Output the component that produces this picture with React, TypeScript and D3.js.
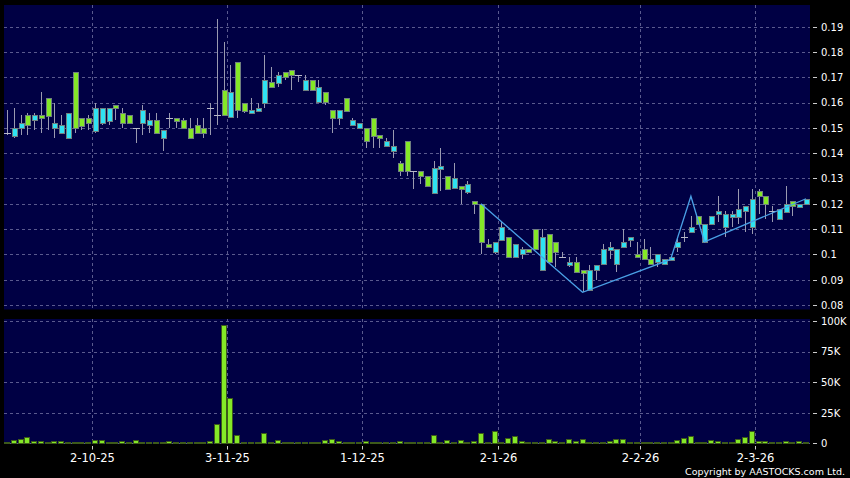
import React from 'react';
import * as d3 from 'd3';

const W = 850;
const H = 478;

// Daily OHLC (oldest first)
const opens = [
  0.148, 0.150, 0.152, 0.151, 0.155, 0.154, 0.155, 0.152, 0.151, 0.156,
  0.150, 0.151, 0.152, 0.158, 0.158, 0.158, 0.158, 0.152, 0.152, 0.150,
  0.157, 0.153, 0.148, 0.149, 0.154, 0.153, 0.150, 0.146, 0.148, 0.148,
  0.158, 0.155, 0.155, 0.164, 0.157, 0.157, 0.157, 0.158, 0.169, 0.166,
  0.171, 0.170, 0.171, 0.171, 0.169, 0.165, 0.166, 0.160, 0.154, 0.157,
  0.157, 0.153, 0.152, 0.145, 0.147, 0.146, 0.145, 0.143, 0.133, 0.133,
  0.133, 0.131, 0.127, 0.134, 0.135, 0.126, 0.130, 0.126, 0.128, 0.120,
  0.105, 0.103, 0.105, 0.111, 0.099, 0.104, 0.102, 0.101, 0.102, 0.107,
  0.097, 0.101, 0.099, 0.097, 0.093, 0.093, 0.094, 0.096, 0.102, 0.103,
  0.102, 0.105, 0.107, 0.099, 0.098, 0.096, 0.100, 0.098, 0.099, 0.105,
  0.107, 0.111, 0.112, 0.112, 0.115, 0.117, 0.116, 0.116, 0.118, 0.119,
  0.122, 0.123, 0.120, 0.117, 0.118, 0.120, 0.119, 0.120, 0.122,
];
const highs = [
  0.157, 0.158, 0.155, 0.156, 0.156, 0.164, 0.162, 0.160, 0.155, 0.156,
  0.172, 0.154, 0.155, 0.160, 0.158, 0.158, 0.159, 0.158, 0.155, 0.150,
  0.159, 0.156, 0.156, 0.149, 0.156, 0.154, 0.154, 0.154, 0.154, 0.154,
  0.160, 0.193, 0.184, 0.175, 0.176, 0.160, 0.162, 0.160, 0.179, 0.174,
  0.172, 0.172, 0.173, 0.171, 0.171, 0.169, 0.169, 0.164, 0.157, 0.157,
  0.162, 0.154, 0.152, 0.150, 0.154, 0.147, 0.146, 0.149, 0.137, 0.145,
  0.133, 0.133, 0.131, 0.137, 0.142, 0.131, 0.136, 0.127, 0.129, 0.121,
  0.120, 0.106, 0.105, 0.113, 0.107, 0.104, 0.103, 0.102, 0.110, 0.110,
  0.108, 0.105, 0.101, 0.099, 0.099, 0.094, 0.096, 0.096, 0.104, 0.105,
  0.102, 0.110, 0.107, 0.105, 0.106, 0.103, 0.100, 0.098, 0.099, 0.106,
  0.109, 0.115, 0.115, 0.112, 0.115, 0.123, 0.117, 0.117, 0.126, 0.119,
  0.126, 0.126, 0.123, 0.119, 0.118, 0.127, 0.121, 0.120, 0.122,
];
const lows = [
  0.147, 0.146, 0.147, 0.147, 0.149, 0.148, 0.149, 0.146, 0.148, 0.146,
  0.148, 0.149, 0.149, 0.148, 0.151, 0.151, 0.153, 0.150, 0.152, 0.144,
  0.147, 0.148, 0.148, 0.141, 0.150, 0.150, 0.150, 0.146, 0.148, 0.146,
  0.147, 0.151, 0.155, 0.154, 0.154, 0.156, 0.156, 0.157, 0.158, 0.166,
  0.166, 0.169, 0.165, 0.168, 0.165, 0.165, 0.160, 0.159, 0.148, 0.151,
  0.157, 0.151, 0.150, 0.142, 0.142, 0.142, 0.143, 0.138, 0.131, 0.131,
  0.126, 0.128, 0.127, 0.124, 0.125, 0.126, 0.126, 0.120, 0.124, 0.116,
  0.100, 0.103, 0.100, 0.106, 0.099, 0.099, 0.098, 0.101, 0.102, 0.094,
  0.097, 0.095, 0.099, 0.095, 0.093, 0.085, 0.086, 0.090, 0.096, 0.098,
  0.093, 0.103, 0.103, 0.099, 0.098, 0.096, 0.095, 0.096, 0.098, 0.101,
  0.105, 0.109, 0.112, 0.105, 0.112, 0.113, 0.107, 0.111, 0.112, 0.109,
  0.108, 0.116, 0.114, 0.113, 0.114, 0.117, 0.115, 0.119, 0.120,
];
const closes = [
  0.148, 0.147, 0.150, 0.155, 0.153, 0.155, 0.162, 0.150, 0.148, 0.146,
  0.172, 0.154, 0.154, 0.149, 0.152, 0.153, 0.159, 0.156, 0.155, 0.150,
  0.152, 0.151, 0.153, 0.146, 0.154, 0.154, 0.153, 0.150, 0.151, 0.150,
  0.158, 0.155, 0.165, 0.154, 0.176, 0.160, 0.156, 0.157, 0.160, 0.168,
  0.168, 0.172, 0.173, 0.171, 0.165, 0.169, 0.160, 0.164, 0.157, 0.154,
  0.162, 0.151, 0.150, 0.150, 0.154, 0.147, 0.143, 0.141, 0.136, 0.145,
  0.133, 0.133, 0.131, 0.124, 0.134, 0.131, 0.126, 0.127, 0.125, 0.121,
  0.120, 0.104, 0.101, 0.106, 0.107, 0.099, 0.100, 0.102, 0.110, 0.094,
  0.108, 0.105, 0.099, 0.096, 0.097, 0.094, 0.086, 0.094, 0.096, 0.102,
  0.096, 0.103, 0.106, 0.100, 0.102, 0.098, 0.097, 0.096, 0.098, 0.103,
  0.107, 0.109, 0.115, 0.105, 0.112, 0.116, 0.111, 0.115, 0.115, 0.117,
  0.111, 0.125, 0.123, 0.117, 0.114, 0.117, 0.121, 0.119, 0.120,
];
// Daily volume, thousands of shares
const volumesK = [
  1.0, 2.7, 3.5, 5.2, 1.6, 1.9, 1.1, 1.9, 1.6, 1.1,
  1.1, 1.1, 0.5, 2.5, 2.5, 0.3, 0.3, 1.6, 0.2, 2.7,
  1.1, 1.1, 1.1, 0.3, 2.2, 0.2, 0.8, 0.3, 0.2, 0.5,
  1.9, 15.8, 96.7, 36.8, 6.8, 1.1, 1.1, 1.1, 8.7, 0.5,
  2.5, 1.1, 0.2, 0.2, 1.1, 1.1, 0.2, 2.5, 3.3, 1.6,
  0.2, 0.2, 0.2, 1.9, 0.8, 0.8, 0.8, 0.8, 1.9, 0.2,
  0.2, 0.2, 0.5, 6.8, 0.8, 2.5, 0.8, 2.5, 0.2, 1.6,
  8.2, 0.8, 10.4, 0.3, 4.6, 6.0, 1.6, 0.2, 0.5, 0.5,
  3.3, 1.6, 0.2, 3.3, 1.9, 3.8, 0.8, 0.5, 1.4, 1.6,
  3.3, 3.3, 0.2, 0.8, 0.8, 0.8, 0.2, 0.5, 0.5, 2.5,
  4.6, 5.7, 0.2, 0.2, 2.7, 1.9, 0.5, 0.2, 3.8, 5.5,
  10.0, 1.6, 1.6, 0.8, 0.2, 1.9, 0.2, 2.2, 0.2,
];

const dateTickIndex = [13, 33, 53, 73, 94, 111];
const dateTickLabels = ['2-10-25', '3-11-25', '1-12-25', '2-1-26', '2-2-26', '2-3-26'];
const priceTicks = [0.08, 0.09, 0.1, 0.11, 0.12, 0.13, 0.14, 0.15, 0.16, 0.17, 0.18, 0.19];
const volumeTicks = [0, 25, 50, 75, 100];

// Zig-zag overlay pivots
const zigIndex = [70, 85, 98, 101, 103, 118];
const zigValue = [0.12, 0.085, 0.098, 0.123, 0.105, 0.122];

const BG = '#000000';
const PANEL = '#000044';
const GRID = '#5a5a8e';
const UP = '#84e827';
const DOWN = '#2fe2f2';
const WICK = '#9a9ab0';
const FONT = 'DejaVu Sans, Verdana, sans-serif';

export default function App() {
  const n = opens.length;
  const left = 4;
  const right = 810;
  const priceTop = 5;
  const priceBottom = 309.5;
  const volTop = 319;
  const volBottom = 444;

  const x = d3.scaleBand<number>().domain(d3.range(n)).range([3.6, 809.4]).padding(0);
  const step = x.step();
  const cx = (i: number) => (x(i) as number) + step / 2;
  const y = d3.scaleLinear().domain([0.08, 0.19]).range([305, 26.7]);
  const yv = d3.scaleLinear().domain([0, 100]).range([443.3, 321]);

  const bodyW = 5;

  const zigLine = d3
    .line<number>()
    .x((_, k) => cx(zigIndex[k]))
    .y((v) => y(v));

  return (
    <svg
      width={W}
      height={H}
      style={{ position: 'fixed', left: 0, top: 0, display: 'block', background: BG }}
    >
      <rect x={0} y={0} width={W} height={H} fill={BG} />
      {/* Panels */}
      <rect x={left} y={priceTop} width={right - left} height={priceBottom - priceTop} fill={PANEL} />
      <rect x={left} y={volTop} width={right - left} height={volBottom - volTop} fill={PANEL} />

      {/* Price grid */}
      <g stroke={GRID} strokeWidth={1} strokeDasharray="3,3" shapeRendering="crispEdges">
        {priceTicks.map((p) => (
          <line key={'pg' + p} x1={left} x2={right} y1={Math.round(y(p)) + 0.5} y2={Math.round(y(p)) + 0.5} />
        ))}
        {dateTickIndex.map((i) => (
          <line key={'vg' + i} x1={Math.round(x(i) as number) + 0.5} x2={Math.round(x(i) as number) + 0.5} y1={priceTop} y2={priceBottom} />
        ))}
        {volumeTicks.map((v) => (
          <line key={'vvg' + v} x1={left} x2={right} y1={Math.round(yv(v)) + 0.5} y2={Math.round(yv(v)) + 0.5} />
        ))}
        {dateTickIndex.map((i) => (
          <line key={'vvg2' + i} x1={Math.round(x(i) as number) + 0.5} x2={Math.round(x(i) as number) + 0.5} y1={volTop} y2={volBottom} />
        ))}
      </g>

      {/* Candles */}
      <g shapeRendering="crispEdges">
        {opens.map((o, i) => {
          const c = closes[i];
          const hi = highs[i];
          const lo = lows[i];
          const xc = Math.round(cx(i)) + 0.5;
          const top = y(Math.max(o, c));
          const bot = y(Math.min(o, c));
          const doji = Math.abs(o - c) < 1e-9;
          const col = c > o ? UP : DOWN;
          return (
            <g key={'c' + i}>
              <line x1={xc} x2={xc} y1={y(hi)} y2={y(lo)} stroke={WICK} strokeWidth={1} />
              {doji ? (
                <line x1={xc - 3.5} x2={xc + 3.5} y1={Math.round(top) + 0.5} y2={Math.round(top) + 0.5} stroke="#b8b8c8" strokeWidth={1} />
              ) : (
                <rect
                  x={xc - bodyW / 2}
                  y={Math.round(top) + 0.5}
                  width={bodyW}
                  height={Math.max(1, Math.round(bot - top))}
                  fill={col}
                  stroke="#6f7f7f"
                  strokeWidth={1}
                />
              )}
            </g>
          );
        })}
      </g>

      {/* Zig-zag line */}
      <path d={zigLine(zigValue) || ''} fill="none" stroke="#4aa0e6" strokeWidth={1.3} />

      {/* Volume bars */}
      <g shapeRendering="crispEdges">
        {volumesK.map((v, i) => {
          const xc = Math.round(cx(i));
          const top = Math.round(yv(v));
          const base = Math.round(yv(0));
          const h = Math.max(1, base - top);
          return (
            <rect key={'v' + i} x={xc - 2.5} y={base - h + 0.5} width={bodyW} height={h} fill={UP} stroke="#3d5a1a" strokeWidth={1} />
          );
        })}
      </g>

      {/* Right price axis */}
      <g fontFamily={FONT} fontSize={10} fill="#ffffff">
        {priceTicks.map((p) => (
          <g key={'pt' + p}>
            <line x1={813} x2={817} y1={Math.round(y(p)) + 0.5} y2={Math.round(y(p)) + 0.5} stroke="#cccccc" />
            <text x={821} y={y(p) + 3.8}>{d3.format('~g')(p)}</text>
          </g>
        ))}
        {volumeTicks.map((v) => (
          <g key={'vt' + v}>
            <line x1={813} x2={817} y1={Math.round(yv(v)) + 0.5} y2={Math.round(yv(v)) + 0.5} stroke="#cccccc" />
            <text x={821} y={yv(v) + 3.8}>{v === 0 ? '0' : v + 'K'}</text>
          </g>
        ))}
      </g>

      {/* Date axis */}
      <g fontFamily={FONT} fontSize={11.5} fill="#ffffff">
        {dateTickIndex.map((i, k) => {
          const xt = Math.round(x(i) as number) + 0.5;
          return (
            <g key={'dt' + i}>
              <line x1={xt} x2={xt} y1={446} y2={449.5} stroke="#cccccc" />
              <text x={xt} y={462} textAnchor="middle">{dateTickLabels[k]}</text>
            </g>
          );
        })}
      </g>

      <text x={845} y={475} textAnchor="end" fontFamily={FONT} fontSize={9.5} fill="#ffffff">
        Copyright by AASTOCKS.com Ltd.
      </text>
    </svg>
  );
}
